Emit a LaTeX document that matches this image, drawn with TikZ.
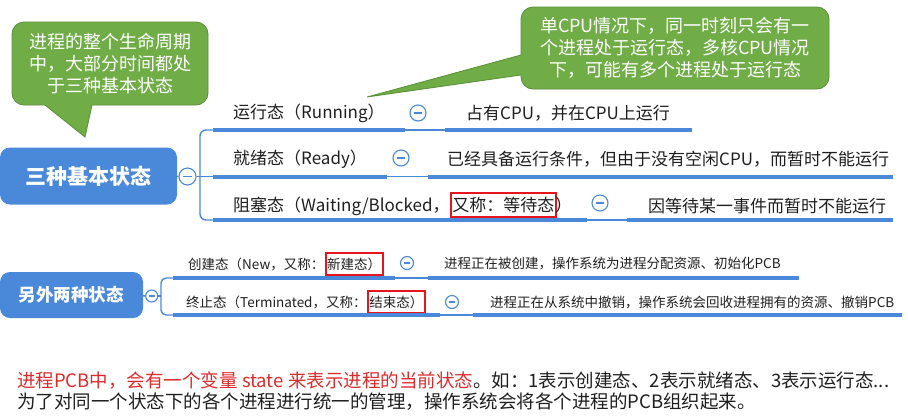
\documentclass[tikz,border=0pt]{standalone}
\usepackage{fontspec}
\setmainfont{Noto Sans CJK SC}
\usepackage{xcolor}
\definecolor{mapBlue}  {HTML}{4A88DA}
\definecolor{noteGreen}{HTML}{70AD47}
\definecolor{noteEdge} {HTML}{5A8F38}
\definecolor{markRed}  {HTML}{E8141B}
\definecolor{footRed}  {HTML}{DC2B2B}
\definecolor{inkGray}  {HTML}{1F1F1F}
\usetikzlibrary{positioning, calc}
\tikzset{
  root/.style   = {rectangle, rounded corners=10pt, fill=mapBlue, text=white,
                   inner sep=0pt, font=\bfseries\fontsize{21pt}{24pt}\selectfont},
  fold/.style   = {circle, draw=mapBlue, line width=1.1pt, fill=white,
                   minimum size=#1, inner sep=0pt,
                   path picture={\draw[mapBlue, line width=1.1pt]
                     ([xshift=-0.24*#1]path picture bounding box.center) --
                     ([xshift=0.24*#1]path picture bounding box.center);}},
  fold/.default = 16pt,
  lbl/.style    = {anchor=west, inner sep=0pt, text=inkGray,
                   font=\fontsize{17pt}{20pt}\selectfont},
  lbls/.style   = {lbl, font=\fontsize{13.5pt}{16pt}\selectfont},
  redbox/.style = {draw=markRed, line width=2pt, inner xsep=1.5pt,
                   inner ysep=4pt, anchor=base west},
  uline/.style  = {mapBlue, line width=4pt},
  link/.style   = {mapBlue, line width=1.4pt},
  bubble/.style = {rectangle, rounded corners=12pt, fill=noteGreen,
                   draw=noteEdge, line width=0.8pt, text=white, align=center,
                   font=\fontsize{18pt}{22pt}\selectfont},
  foot/.style   = {anchor=west, inner sep=0pt, text=inkGray,
                   font=\fontsize{18.5pt}{21pt}\selectfont},
}

\begin{document}
\begin{tikzpicture}[x=1pt, y=-1pt]
  \useasboundingbox (0,0) rectangle (908,416);

  % three basic states
  \node[root, minimum width=177pt, minimum height=57pt] (basic) at (88.5,176) {三种基本状态};
  \node[fold=17pt] (basicF) at (187.5,176.5) {};
  \coordinate (basicJ) at (200,176.5);

  \node[lbl] (run)   at (233,113) {运行态（Running）};
  \node[fold] (runF) at (418,113) {};
  \node[lbl] (runD)  at (466,113) {占有CPU，并在CPU上运行};
  \draw[uline] (213,130) coordinate (runA) -- (405,130) coordinate (runB);
  \draw[uline] (445,130) coordinate (runC) -- (692,130);
  \draw[link]  (runB) -- (runC);

  \node[lbl] (ready)   at (233,159) {就绪态（Ready）};
  \node[fold] (readyF) at (401,158) {};
  \node[lbl] (readyD)  at (447,159) {已经具备运行条件，但由于没有空闲CPU，而暂时不能运行};
  \draw[uline] (213,176.5) coordinate (readyA) -- (387,176.5) coordinate (readyB);
  \draw[uline] (428,176.5) coordinate (readyC) -- (893,176.5);
  \draw[link]  (readyB) -- (readyC);

  \node[lbl] (blk)          at (233,206) {阻塞态（Waiting/Blocked，};
  \node[lbl, redbox] (blkM) at (blk.base east) {又称：等待态};
  \node[lbl, anchor=base west, xshift=-2pt] (blkE) at (blkM.base east) {）};
  \node[fold] (blkF) at (600,203) {};
  \node[lbl] (blkD)  at (648,206) {因等待某一事件而暂时不能运行};
  \draw[uline] (213,220) coordinate (blkA) -- (587,220) coordinate (blkB);
  \draw[uline] (627,220) coordinate (blkC) -- (893,220);
  \draw[link]  (blkB) -- (blkC);

  \draw[link] (basic) -- (basicF);
  \draw[link] (basicF) -- (readyA);
  \draw[link, rounded corners=6pt] (runA) -| (basicJ) |- (blkA);

  % two other states
  \node[root, minimum width=143pt, minimum height=46pt,
        font=\bfseries\fontsize{17.5pt}{20pt}\selectfont] (other) at (71.5,295) {另外两种状态};
  \node[fold=12pt] (otherF) at (151.7,296) {};
  \coordinate (otherJ) at (161,296);

  \node[lbls] (new)         at (188,264) {创建态（New，又称：};
  \node[lbls, redbox, inner ysep=5pt] (newM) at (new.base east) {新建态）};
  \node[fold=13pt] (newF)   at (407,263) {};
  \node[lbls] (newD)        at (444,264) {进程正在被创建，操作系统为进程分配资源、初始化PCB};
  \draw[uline, line width=3.5pt] (173,278) coordinate (newA) -- (395,278) coordinate (newB);
  \draw[uline, line width=3.5pt] (428,278) coordinate (newC) -- (799,278);
  \draw[link]  (newB) -- (newC);

  \node[lbls] (term)         at (186,302) {终止态（Terminated，又称：};
  \node[lbls, redbox, inner ysep=5pt] (termM) at (term.base east) {结束态）};
  \node[fold=13pt] (termF)   at (452,302) {};
  \node[lbls] (termD)        at (490,302) {进程正在从系统中撤销，操作系统会回收进程拥有的资源、撤销PCB};
  \draw[uline, line width=3.5pt] (173,315) coordinate (termA) -- (440,315) coordinate (termB);
  \draw[uline, line width=3.5pt] (473,315) coordinate (termC) -- (902,315);
  \draw[link]  (termB) -- (termC);

  \draw[link] (other) -- (otherF);
  \draw[link, rounded corners=5pt] (newA) -| (otherJ) |- (termA);
  \draw[link] (otherF) -- (otherJ);

  % callouts
  \node[bubble, minimum width=196pt, minimum height=83pt] (lifeNote) at (110,63.5)
        {进程的整个生命周期\\中，大部分时间都处\\于三种基本状态};
  \fill[noteGreen] (41.3,102) -- (85,137) -- (92.7,102) -- cycle;
  \draw[noteEdge, line width=0.8pt] (45,105) -- (85,137) -- (92,105);

  \node[bubble, minimum width=308pt, minimum height=82pt] (cpuNote) at (675,48)
        {单CPU情况下，同一时刻只会有一\\个进程处于运行态，多核CPU情况\\下，可能有多个进程处于运行态};
  \fill[noteGreen] (524,54.2) -- (367,97) -- (524,74.6) -- cycle;
  \draw[noteEdge, line width=0.8pt] (521,55) -- (367,97) -- (521,75);

  % footnote
  \node[foot] (foot1) at (17,381)
        {\textcolor{footRed}{进程PCB中，会有一个变量 state 来表示进程的当前状态}。如：1表示创建态、2表示就绪态、3表示运行态...};
  \node[foot] (foot2) at (17,402)
        {为了对同一个状态下的各个进程进行统一的管理，操作系统会将各个进程的PCB组织起来。};
\end{tikzpicture}
\end{document}
